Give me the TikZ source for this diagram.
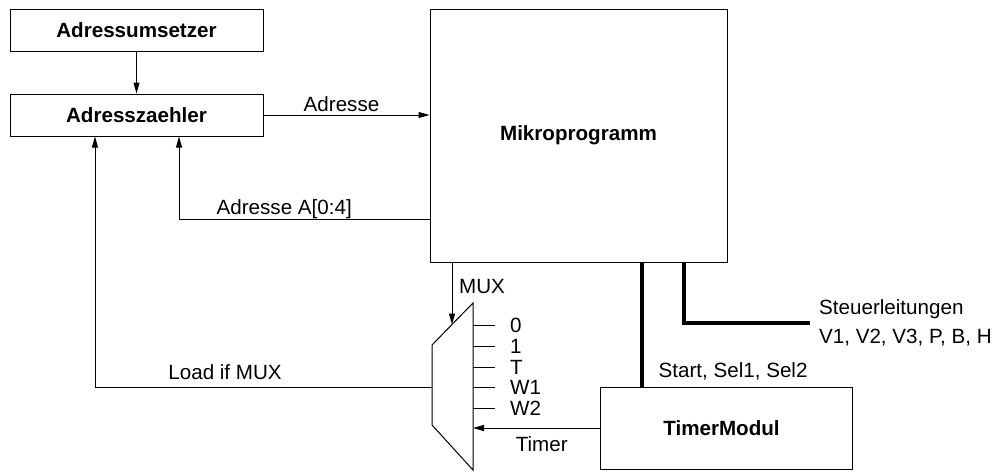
\documentclass[tikz,border=0pt]{standalone}
\usepackage{fontspec}
\setmainfont{Liberation Sans}
\usetikzlibrary{arrows.meta}

\begin{document}
\begin{tikzpicture}[x=0.5pt,y=-0.5pt,line width=0.5pt,font=\fontsize{10.3}{14.3}\selectfont,
    box/.style={draw,line width=0.5pt,inner sep=0pt,font=\fontsize{10.3}{12}\selectfont\bfseries},
    arr/.style={-{Triangle[length=5.5pt,width=3pt]}},
    lbl/.style={anchor=base,inner sep=0pt},
    bus/.style={line width=2pt}]
    \useasboundingbox (0,0) rectangle (1001,472);
    \node [box,minimum width=126.5pt,minimum height=21pt] (umsetzer) at (136.5,30){Adressumsetzer};
    \node [box,minimum width=126.5pt,minimum height=21pt] (zaehler) at (136.5,115){Adresszaehler};
    \node [box,minimum width=148.5pt,minimum height=126.5pt] (mikro) at (578.5,135.5){Mikroprogramm};
    \node [box,minimum width=126pt,minimum height=41pt,text depth=-4pt] (timer) at (726,428){\hspace*{-4.5pt}TimerModul};
    \coordinate (muxtr) at (473,303); \coordinate (muxbr) at (473,470);
    \coordinate (muxbl) at (432,425); \coordinate (muxtl) at (432,345);
    \coordinate (muxsel) at (452,324.5); \coordinate (muxout) at (432,387);
    \draw (muxtr) -- (muxbr) -- (muxbl) -- (muxtl) -- cycle;
    \foreach \y/\txt in {325/0,346/1,367/T,387/W1,408/W2}{
      \draw (473,\y) -- (495,\y) node [right,xshift=4pt]{\txt};
    }
    \draw [arr] (umsetzer) -- (zaehler);
    \draw [arr] (zaehler.east) -- node [lbl,pos=0.47,yshift=2pt]{Adresse} (zaehler.east -| mikro.west);
    \coordinate (abk) at ([yshift=-41.75pt]mikro.west);
    \draw [arr] (abk) -| node [lbl,pos=0.29,yshift=2.5pt]{Adresse A[0:4]} ([xshift=21.25pt]zaehler.south);
    \draw [arr] (muxout) -| node [lbl,pos=0.307,yshift=4pt]{Load if MUX} ([xshift=-20.75pt]zaehler.south);
    \draw [arr] (mikro.south -| muxsel) -- node [right,pos=0.35,yshift=-1pt]{MUX} (muxsel);
    \draw [arr] (timer.west) -- node [lbl,pos=0.457,yshift=-11.5pt]{Timer} (timer.west -| muxtr);
    \coordinate (busA) at ([xshift=31.75pt]mikro.south);
    \draw [bus] (busA) -- node [right,pos=0.88,xshift=4pt]{Start, Sel1, Sel2} (busA |- timer.north);
    \coordinate (busB) at ([xshift=52.75pt]mikro.south);
    \coordinate (steuer) at (810,323);
    \draw [bus] (busB) |- (steuer);
    \node [right,align=left,xshift=1pt] (steuertxt) at (steuer){Steuerleitungen\\V1, V2, V3, P, B, H};
  \end{tikzpicture}
\end{document}
